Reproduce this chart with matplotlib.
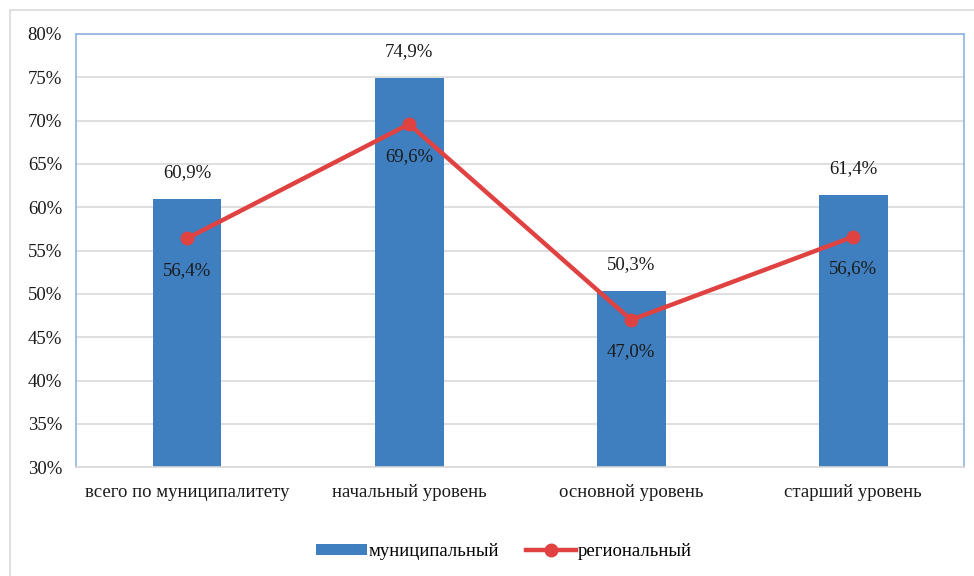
import numpy as np
import matplotlib
matplotlib.use("Agg")
from matplotlib import pyplot as plt
from matplotlib.patches import Rectangle

categories = ["всего по муниципалитету", "начальный уровень", "основной уровень", "старший уровень"]
municipal = [60.9, 74.9, 50.3, 61.4]
regional = [56.4, 69.6, 47.0, 56.6]
yticks = [30, 35, 40, 45, 50, 55, 60, 65, 70, 75, 80]

plt.rcParams['font.family'] = ['Liberation Serif', 'DejaVu Serif']
plt.rcParams['font.size'] = 13.5

blue = '#3F7FBF'
red = '#E04141'
txt = '#1A1A1A'

fig = plt.figure(figsize=(9.74, 5.76), dpi=100)
ax = fig.add_axes([0.078, 0.189, 0.912, 0.752])

# outer gray frame
fig.patches.append(Rectangle((10/974, -0.1), 1.2, 1 - 10/576 + 0.1, transform=fig.transFigure,
                             fill=False, edgecolor='#D9D9D9', linewidth=1.2))

x = np.arange(len(categories))
bars = ax.bar(x, municipal, width=0.31, color=blue, zorder=2, label='муниципальный')
line, = ax.plot(x, regional, color=red, linewidth=3.2, marker='o', markersize=9, zorder=3, label='региональный')

for xi, v in zip(x, municipal):
    ax.annotate(f"{v:.1f}%".replace('.', ','), (xi, v), xytext=(0, 13), textcoords='offset points',
                ha='center', va='bottom', color=txt)
for xi, v in zip(x, regional):
    ax.annotate(f"{v:.1f}%".replace('.', ','), (xi, v), xytext=(0, -17), textcoords='offset points',
                ha='center', va='top', color=txt, zorder=4)

ax.set_xlim(-0.5, 3.5)
ax.set_ylim(30, 80)
ax.set_yticks(yticks)
ax.set_yticklabels([f"{t}%" for t in yticks])
ax.set_xticks(x)
ax.set_xticklabels(categories)
ax.tick_params(length=0, colors=txt)
ax.tick_params(axis='x', pad=12)
ax.tick_params(axis='y', pad=10)
ax.grid(axis='y', color='#D9D9D9', linewidth=1.2, zorder=0)
ax.set_axisbelow(True)
for s in ['left', 'top', 'right']:
    ax.spines[s].set_color('#8DB4E2')
    ax.spines[s].set_linewidth(1.2)
ax.spines['bottom'].set_color('#D9D9D9')
ax.spines['bottom'].set_linewidth(1.2)

ax.legend([bars, line], ['муниципальный', 'региональный'], loc='center', bbox_to_anchor=(0.482, -0.195),
          ncol=2, frameon=False, handlelength=2.7, handleheight=0.6, columnspacing=1.4, handletextpad=0.1)

fig.savefig("out.png", dpi=100)
